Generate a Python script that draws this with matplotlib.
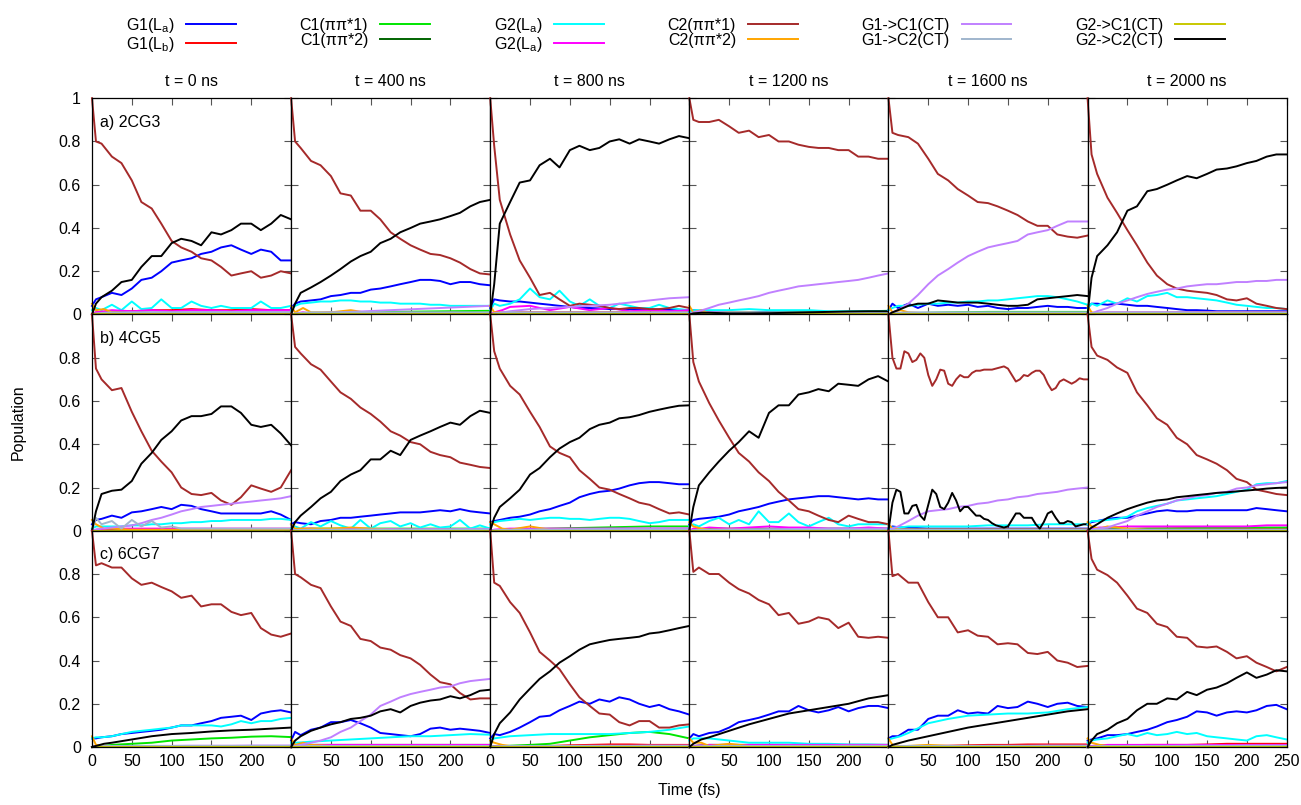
import matplotlib.pyplot as plt

plt.rcParams['font.family'] = ['Liberation Sans', 'DejaVu Sans']
plt.rcParams['mathtext.fontset'] = 'custom'
plt.rcParams['mathtext.rm'] = 'Liberation Sans'

# Zeitraster (fs): fein fuer die grossen Kurven, grob fuer die kleinen
T = [0, 5, 12, 25, 37, 50, 62, 75, 87, 100, 112, 125, 137, 150, 162, 175, 187, 200, 212, 225, 237, 250]
T_S = [0, 5, 15, 25, 50, 75, 100, 125, 150, 175, 200, 225, 250]
T_5 = list(range(0, 255, 5))

times = ["t = 0 ns", "t = 400 ns", "t = 800 ns", "t = 1200 ns", "t = 1600 ns", "t = 2000 ns"]
systems = ["a) 2CG3", "b) 4CG5", "c) 6CG7"]

names = ["G1(L$_\\mathregular{a}$)", "G1(L$_\\mathregular{b}$)", "C1(\u03c0\u03c0*1)", "C1(\u03c0\u03c0*2)",
         "G2(L$_\\mathregular{a}$)", "G2(L$_\\mathregular{a}$)", "C2(\u03c0\u03c0*1)", "C2(\u03c0\u03c0*2)",
         "G1->C1(CT)", "G1->C2(CT)", "G2->C1(CT)", "G2->C2(CT)"]
colors = ["#0000ff", "#ff0000", "#00e600", "#006400", "#00ffff", "#ff00ff",
          "#a52a2a", "#ffa500", "#c080ff", "#a0b6cd", "#c8c800", "#000000"]

# kleine Untergrundwerte (Raster T_S)
LOW = [0.0, 0.003, 0.004, 0.005, 0.005, 0.005, 0.005, 0.005, 0.005, 0.005, 0.005, 0.005, 0.005]
MID = [0.0, 0.005, 0.008, 0.01, 0.01, 0.01, 0.01, 0.01, 0.01, 0.01, 0.01, 0.01, 0.01]
ZERO = [0, 0, 0, 0, 0, 0, 0, 0, 0, 0, 0, 0, 0]
SMALL_CT = [0.0, 0.0, 0.002, 0.003, 0.004, 0.005, 0.005, 0.006, 0.006, 0.006, 0.007, 0.007, 0.007]

# ---------------- Zeile a) 2CG3 ----------------
G1_LA_A = [
    [0.04, 0.07, 0.08, 0.10, 0.09, 0.12, 0.16, 0.17, 0.20, 0.24, 0.25, 0.26, 0.28, 0.29, 0.31, 0.32, 0.30, 0.28, 0.30, 0.29, 0.25, 0.25],
    [0.03, 0.05, 0.06, 0.065, 0.07, 0.085, 0.09, 0.10, 0.10, 0.115, 0.12, 0.13, 0.14, 0.15, 0.16, 0.16, 0.155, 0.14, 0.15, 0.15, 0.14, 0.135],
    [0.03, 0.07, 0.065, 0.06, 0.06, 0.055, 0.05, 0.045, 0.04, 0.035, 0.03, 0.03, 0.028, 0.025, 0.025, 0.024, 0.023, 0.023, 0.022, 0.022, 0.02, 0.02],
    [0.01, 0.02, 0.015, 0.01, 0.01, 0.01, 0.012, 0.012, 0.01, 0.01, 0.01, 0.01, 0.01],
    [0.02, 0.05, 0.03, 0.05, 0.03, 0.05, 0.04, 0.045, 0.04, 0.045, 0.035, 0.04, 0.03, 0.025, 0.03, 0.03, 0.035, 0.04, 0.035, 0.035, 0.03, 0.03],
    [0.03, 0.05, 0.05, 0.045, 0.05, 0.045, 0.04, 0.04, 0.035, 0.03, 0.025, 0.02, 0.02, 0.018, 0.015, 0.015, 0.015, 0.015, 0.015, 0.015, 0.015, 0.015],
]
G1_LB_A = [
    [0.0, 0.01, 0.01, 0.015, 0.015, 0.02, 0.02, 0.025, 0.02, 0.02, 0.025, 0.02, 0.02],
    LOW, MID, LOW, LOW,
    [0.0, 0.004, 0.005, 0.005, 0.005, 0.006, 0.007, 0.008, 0.01, 0.01, 0.01, 0.01, 0.01],
]
C1_PP1_A = [
    [0.0, 0.002, 0.004, 0.005, 0.006, 0.006, 0.007, 0.008, 0.008, 0.008, 0.009, 0.01, 0.01],
    [0.0, 0.002, 0.004, 0.005, 0.006, 0.008, 0.01, 0.012, 0.013, 0.014, 0.015, 0.016, 0.017],
    LOW,
    [0.0, 0.002, 0.003, 0.004, 0.006, 0.008, 0.009, 0.01, 0.011, 0.012, 0.013, 0.015, 0.017],
    [0.0, 0.002, 0.004, 0.006, 0.008, 0.01, 0.011, 0.012, 0.012, 0.012, 0.012, 0.012, 0.012],
    LOW,
]
C1_PP2_A = [LOW, LOW, LOW, LOW, LOW, LOW]
G2_LA_A = [
    [0.02, 0.03, 0.02, 0.045, 0.02, 0.06, 0.025, 0.03, 0.07, 0.03, 0.03, 0.06, 0.04, 0.03, 0.04, 0.03, 0.03, 0.03, 0.06, 0.03, 0.03, 0.04],
    [0.02, 0.04, 0.05, 0.055, 0.06, 0.06, 0.065, 0.065, 0.06, 0.06, 0.055, 0.055, 0.05, 0.05, 0.05, 0.045, 0.045, 0.04, 0.04, 0.04, 0.04, 0.04],
    [0.02, 0.05, 0.04, 0.05, 0.07, 0.12, 0.08, 0.07, 0.11, 0.06, 0.04, 0.07, 0.04, 0.03, 0.05, 0.04, 0.03, 0.03, 0.045, 0.03, 0.025, 0.02],
    [0.01, 0.02, 0.02, 0.02, 0.02, 0.025, 0.02, 0.02, 0.02, 0.015, 0.015, 0.015, 0.015],
    [0.02, 0.03, 0.04, 0.04, 0.045, 0.05, 0.05, 0.055, 0.055, 0.06, 0.06, 0.065, 0.065, 0.07, 0.075, 0.08, 0.085, 0.085, 0.08, 0.07, 0.06, 0.045],
    [0.03, 0.05, 0.04, 0.065, 0.05, 0.075, 0.06, 0.085, 0.09, 0.10, 0.08, 0.08, 0.075, 0.07, 0.065, 0.055, 0.045, 0.04, 0.035, 0.03, 0.03, 0.025],
]
G2_LA2_A = [
    [0.0, 0.01, 0.015, 0.02, 0.015, 0.02, 0.015, 0.02, 0.02, 0.015, 0.02, 0.02, 0.02],
    [0.0, 0.005, 0.01, 0.005, 0.01, 0.005, 0.01, 0.005, 0.008, 0.005, 0.008, 0.006, 0.006],
    [0.0, 0.01, 0.02, 0.035, 0.04, 0.02, 0.035, 0.02, 0.03, 0.015, 0.02, 0.015, 0.02],
    [0.0, 0.01, 0.012, 0.01, 0.008, 0.008, 0.006, 0.006, 0.006, 0.006, 0.006, 0.006, 0.006],
    LOW, MID,
]
C2_PP1_A = [
    [1.0, 0.80, 0.79, 0.73, 0.70, 0.62, 0.52, 0.49, 0.42, 0.34, 0.31, 0.29, 0.26, 0.25, 0.22, 0.18, 0.19, 0.20, 0.17, 0.18, 0.20, 0.19],
    [1.0, 0.80, 0.77, 0.71, 0.69, 0.64, 0.56, 0.55, 0.48, 0.48, 0.44, 0.38, 0.35, 0.32, 0.30, 0.28, 0.275, 0.26, 0.24, 0.21, 0.19, 0.185],
    [1.0, 0.78, 0.53, 0.37, 0.25, 0.17, 0.09, 0.10, 0.07, 0.04, 0.05, 0.045, 0.04, 0.03, 0.025, 0.03, 0.03, 0.025, 0.025, 0.03, 0.04, 0.03],
    [1.0, 0.90, 0.89, 0.89, 0.90, 0.87, 0.84, 0.85, 0.82, 0.83, 0.80, 0.80, 0.785, 0.775, 0.77, 0.77, 0.76, 0.76, 0.73, 0.73, 0.72, 0.72],
    [1.0, 0.84, 0.83, 0.82, 0.79, 0.72, 0.65, 0.62, 0.58, 0.55, 0.52, 0.515, 0.50, 0.48, 0.46, 0.43, 0.41, 0.41, 0.37, 0.36, 0.355, 0.365],
    [1.0, 0.74, 0.65, 0.54, 0.47, 0.39, 0.32, 0.24, 0.18, 0.14, 0.12, 0.11, 0.105, 0.10, 0.09, 0.07, 0.065, 0.075, 0.05, 0.04, 0.03, 0.025],
]
C2_PP2_A = [
    [0.05, 0.02, 0.025, 0.01, 0.005, 0.005, 0.005, 0.005, 0.005, 0.005, 0.005, 0.005, 0.005],
    [0.04, 0.01, 0.03, 0.01, 0.01, 0.02, 0.005, 0.005, 0.005, 0.005, 0.005, 0.005, 0.005],
    [0.04, 0.01, 0.01, 0.005, 0.005, 0.005, 0.005, 0.005, 0.005, 0.005, 0.005, 0.005, 0.005],
    [0.04, 0.01, 0.02, 0.005, 0.01, 0.01, 0.005, 0.005, 0.005, 0.005, 0.005, 0.005, 0.005],
    [0.04, 0.01, 0.02, 0.01, 0.005, 0.005, 0.005, 0.005, 0.005, 0.005, 0.005, 0.005, 0.005],
    [0.04, 0.01, 0.005, 0.005, 0.005, 0.005, 0.005, 0.005, 0.005, 0.005, 0.005, 0.005, 0.005],
]
G1_C1_A = [
    [0.0, 0.0, 0.003, 0.005, 0.008, 0.01, 0.01, 0.01, 0.012, 0.012, 0.012, 0.012, 0.012],
    [0.0, 0.0, 0.002, 0.004, 0.008, 0.012, 0.016, 0.02, 0.024, 0.028, 0.032, 0.036, 0.04],
    [0.0, 0.005, 0.01, 0.015, 0.025, 0.03, 0.035, 0.04, 0.045, 0.055, 0.065, 0.075, 0.08],
    [0.0, 0.01, 0.015, 0.03, 0.045, 0.055, 0.065, 0.075, 0.085, 0.10, 0.11, 0.12, 0.13, 0.135, 0.14, 0.145, 0.15, 0.155, 0.16, 0.17, 0.18, 0.19],
    [0.0, 0.01, 0.02, 0.05, 0.09, 0.14, 0.18, 0.21, 0.24, 0.27, 0.29, 0.31, 0.32, 0.33, 0.34, 0.37, 0.38, 0.39, 0.41, 0.43, 0.43, 0.43],
    [0.0, 0.005, 0.015, 0.03, 0.05, 0.065, 0.08, 0.095, 0.105, 0.115, 0.12, 0.13, 0.135, 0.14, 0.14, 0.145, 0.15, 0.15, 0.155, 0.155, 0.16, 0.16],
]
G1_C2_A = [MID, MID, MID, MID, MID, MID]
G2_C1_A = [ZERO, ZERO, ZERO, ZERO, ZERO, ZERO]
G2_C2_A = [
    [0.0, 0.05, 0.08, 0.11, 0.15, 0.16, 0.22, 0.27, 0.27, 0.33, 0.35, 0.34, 0.32, 0.38, 0.37, 0.39, 0.42, 0.42, 0.39, 0.42, 0.46, 0.44],
    [0.0, 0.05, 0.10, 0.125, 0.15, 0.18, 0.21, 0.245, 0.27, 0.29, 0.33, 0.35, 0.38, 0.40, 0.42, 0.43, 0.44, 0.455, 0.47, 0.50, 0.52, 0.53],
    [0.0, 0.14, 0.42, 0.52, 0.61, 0.62, 0.69, 0.72, 0.68, 0.76, 0.78, 0.76, 0.77, 0.80, 0.81, 0.79, 0.81, 0.80, 0.79, 0.81, 0.825, 0.815],
    [0.0, 0.005, 0.008, 0.008, 0.005, 0.005, 0.006, 0.008, 0.01, 0.012, 0.014, 0.015, 0.015],
    [0.0, 0.01, 0.02, 0.04, 0.05, 0.05, 0.065, 0.06, 0.055, 0.055, 0.055, 0.05, 0.045, 0.04, 0.04, 0.045, 0.07, 0.075, 0.08, 0.085, 0.09, 0.085],
    [0.0, 0.17, 0.27, 0.32, 0.38, 0.48, 0.50, 0.57, 0.58, 0.60, 0.62, 0.64, 0.63, 0.65, 0.67, 0.675, 0.685, 0.70, 0.71, 0.73, 0.74, 0.74],
]

# ---------------- Zeile b) 4CG5 ----------------
G1_LA_B = [
    [0.03, 0.05, 0.055, 0.07, 0.06, 0.085, 0.09, 0.10, 0.11, 0.10, 0.12, 0.115, 0.10, 0.09, 0.08, 0.08, 0.08, 0.08, 0.08, 0.09, 0.075, 0.05],
    [0.03, 0.04, 0.035, 0.03, 0.045, 0.05, 0.06, 0.06, 0.065, 0.07, 0.075, 0.08, 0.085, 0.085, 0.085, 0.09, 0.095, 0.09, 0.10, 0.09, 0.085, 0.08],
    [0.04, 0.045, 0.05, 0.06, 0.065, 0.075, 0.09, 0.10, 0.115, 0.13, 0.155, 0.17, 0.18, 0.185, 0.195, 0.21, 0.22, 0.225, 0.225, 0.22, 0.215, 0.215],
    [0.03, 0.05, 0.055, 0.06, 0.065, 0.075, 0.09, 0.10, 0.11, 0.125, 0.135, 0.145, 0.15, 0.155, 0.16, 0.16, 0.155, 0.15, 0.145, 0.15, 0.145, 0.145],
    [0.01, 0.02, 0.015, 0.015, 0.01, 0.01, 0.01, 0.01, 0.01, 0.01, 0.01, 0.01, 0.01],
    [0.03, 0.04, 0.045, 0.055, 0.06, 0.06, 0.07, 0.08, 0.09, 0.095, 0.09, 0.09, 0.095, 0.095, 0.095, 0.095, 0.095, 0.095, 0.105, 0.10, 0.095, 0.09],
]
G1_LB_B = [LOW, LOW, LOW, LOW, LOW,
           [0.0, 0.005, 0.005, 0.005, 0.008, 0.01, 0.01, 0.012, 0.012, 0.012, 0.012, 0.012, 0.012]]
C1_PP1_B = [
    LOW, MID,
    [0.0, 0.002, 0.004, 0.005, 0.008, 0.01, 0.012, 0.014, 0.016, 0.018, 0.02, 0.02, 0.02],
    MID, LOW,
    [0.0, 0.003, 0.005, 0.007, 0.009, 0.01, 0.011, 0.012, 0.013, 0.014, 0.015, 0.015, 0.015],
]
C1_PP2_B = [LOW, LOW, LOW, LOW, LOW, LOW]
G2_LA_B = [
    [0.01, 0.02, 0.02, 0.02, 0.02, 0.025, 0.025, 0.03, 0.03, 0.035, 0.035, 0.04, 0.04, 0.045, 0.045, 0.05, 0.05, 0.05, 0.05, 0.055, 0.055, 0.05],
    [0.01, 0.02, 0.01, 0.04, 0.02, 0.045, 0.025, 0.01, 0.05, 0.01, 0.035, 0.045, 0.02, 0.035, 0.015, 0.03, 0.015, 0.02, 0.05, 0.01, 0.025, 0.01],
    [0.03, 0.04, 0.045, 0.05, 0.055, 0.05, 0.055, 0.06, 0.06, 0.055, 0.055, 0.05, 0.055, 0.06, 0.06, 0.055, 0.045, 0.035, 0.04, 0.05, 0.05, 0.05],
    [0.02, 0.03, 0.02, 0.045, 0.06, 0.03, 0.05, 0.03, 0.09, 0.04, 0.04, 0.08, 0.04, 0.02, 0.04, 0.06, 0.03, 0.02, 0.03, 0.03, 0.03, 0.03],
    [0.01, 0.015, 0.015, 0.02, 0.02, 0.02, 0.02, 0.025, 0.025, 0.025, 0.03, 0.03, 0.03],
    [0.03, 0.045, 0.045, 0.05, 0.055, 0.065, 0.09, 0.105, 0.115, 0.125, 0.14, 0.145, 0.15, 0.155, 0.16, 0.17, 0.18, 0.19, 0.215, 0.22, 0.22, 0.23],
]
G2_LA2_B = [
    MID,
    [0.0, 0.005, 0.01, 0.01, 0.005, 0.01, 0.005, 0.008, 0.005, 0.008, 0.005, 0.006, 0.005],
    MID,
    [0.0, 0.01, 0.01, 0.015, 0.01, 0.015, 0.02, 0.015, 0.015, 0.01, 0.01, 0.015, 0.01],
    LOW,
    [0.0, 0.01, 0.015, 0.015, 0.02, 0.02, 0.02, 0.02, 0.02, 0.02, 0.02, 0.025, 0.025],
]
C2_PP1_B = [
    [1.0, 0.75, 0.70, 0.65, 0.66, 0.55, 0.46, 0.37, 0.32, 0.27, 0.20, 0.17, 0.165, 0.175, 0.14, 0.12, 0.155, 0.21, 0.195, 0.18, 0.20, 0.28],
    [1.0, 0.85, 0.82, 0.77, 0.745, 0.69, 0.64, 0.61, 0.57, 0.54, 0.505, 0.46, 0.44, 0.41, 0.40, 0.365, 0.35, 0.34, 0.315, 0.305, 0.295, 0.29],
    [1.0, 0.83, 0.75, 0.67, 0.63, 0.55, 0.48, 0.39, 0.36, 0.34, 0.28, 0.24, 0.20, 0.19, 0.17, 0.15, 0.13, 0.12, 0.10, 0.08, 0.085, 0.075],
    [1.0, 0.78, 0.69, 0.59, 0.51, 0.43, 0.36, 0.32, 0.27, 0.23, 0.18, 0.14, 0.10, 0.09, 0.07, 0.05, 0.04, 0.07, 0.055, 0.04, 0.04, 0.03],
    [1.0, 0.80, 0.75, 0.75, 0.83, 0.82, 0.78, 0.79, 0.82, 0.80,
     0.72, 0.67, 0.70, 0.745, 0.74, 0.68, 0.67, 0.70, 0.72, 0.71,
     0.71, 0.73, 0.74, 0.74, 0.745, 0.745, 0.745, 0.75, 0.755, 0.76,
     0.75, 0.72, 0.69, 0.70, 0.72, 0.715, 0.73, 0.74, 0.74, 0.72,
     0.68, 0.65, 0.66, 0.69, 0.70, 0.69, 0.68, 0.69, 0.705, 0.70,
     0.70],
    [1.0, 0.85, 0.81, 0.79, 0.755, 0.73, 0.64, 0.58, 0.52, 0.49, 0.43, 0.40, 0.35, 0.33, 0.31, 0.28, 0.24, 0.225, 0.19, 0.18, 0.17, 0.165],
]
C2_PP2_B = [
    [0.05, 0.03, 0.01, 0.01, 0.005, 0.005, 0.005, 0.005, 0.005, 0.005, 0.005, 0.005, 0.005],
    [0.03, 0.01, 0.01, 0.01, 0.01, 0.015, 0.01, 0.005, 0.005, 0.005, 0.005, 0.005, 0.005],
    [0.04, 0.03, 0.01, 0.005, 0.02, 0.005, 0.005, 0.005, 0.005, 0.005, 0.005, 0.005, 0.005],
    [0.04, 0.02, 0.01, 0.005, 0.005, 0.005, 0.005, 0.005, 0.005, 0.005, 0.005, 0.005, 0.005],
    [0.03, 0.01, 0.005, 0.005, 0.005, 0.005, 0.005, 0.005, 0.005, 0.005, 0.005, 0.005, 0.005],
    [0.04, 0.02, 0.01, 0.02, 0.01, 0.005, 0.005, 0.005, 0.005, 0.005, 0.005, 0.005, 0.005],
]
G1_C1_B = [
    [0.0, 0.005, 0.01, 0.015, 0.02, 0.025, 0.035, 0.05, 0.06, 0.075, 0.09, 0.10, 0.11, 0.115, 0.12, 0.125, 0.13, 0.135, 0.14, 0.145, 0.15, 0.16],
    [0.0, 0.0, 0.002, 0.003, 0.004, 0.005, 0.005, 0.006, 0.006, 0.007, 0.007, 0.008, 0.008],
    [0.0, 0.0, 0.002, 0.003, 0.005, 0.006, 0.007, 0.008, 0.009, 0.01, 0.01, 0.01, 0.01],
    [0.0, 0.0, 0.002, 0.003, 0.005, 0.006, 0.007, 0.008, 0.009, 0.01, 0.01, 0.01, 0.01],
    [0.0, 0.01, 0.02, 0.045, 0.07, 0.09, 0.095, 0.10, 0.11, 0.115, 0.125, 0.13, 0.14, 0.145, 0.155, 0.16, 0.17, 0.175, 0.18, 0.19, 0.195, 0.20],
    [0.0, 0.005, 0.01, 0.015, 0.03, 0.045, 0.07, 0.09, 0.11, 0.125, 0.14, 0.15, 0.16, 0.165, 0.175, 0.18, 0.195, 0.20, 0.21, 0.215, 0.22, 0.225],
]
G1_C2_B = [
    [0.0, 0.06, 0.03, 0.045, 0.01, 0.05, 0.02, 0.045, 0.015, 0.02, 0.01, 0.01, 0.01, 0.01, 0.01, 0.01, 0.01, 0.01, 0.01, 0.01, 0.01, 0.01],
    LOW, LOW, LOW, LOW, LOW,
]
G2_C1_B = [ZERO, ZERO, ZERO, ZERO, ZERO, ZERO]
G2_C2_B = [
    [0.0, 0.09, 0.17, 0.185, 0.19, 0.23, 0.31, 0.36, 0.42, 0.46, 0.51, 0.53, 0.53, 0.54, 0.575, 0.575, 0.545, 0.49, 0.48, 0.49, 0.45, 0.395],
    [0.0, 0.04, 0.07, 0.11, 0.15, 0.18, 0.23, 0.26, 0.28, 0.33, 0.33, 0.37, 0.35, 0.42, 0.44, 0.46, 0.48, 0.50, 0.49, 0.53, 0.555, 0.545],
    [0.0, 0.06, 0.11, 0.15, 0.19, 0.26, 0.29, 0.34, 0.38, 0.41, 0.43, 0.47, 0.49, 0.50, 0.52, 0.525, 0.535, 0.55, 0.56, 0.57, 0.578, 0.58],
    [0.0, 0.11, 0.21, 0.27, 0.32, 0.37, 0.41, 0.46, 0.43, 0.545, 0.58, 0.58, 0.63, 0.64, 0.655, 0.645, 0.68, 0.675, 0.67, 0.70, 0.715, 0.69],
    [0.0, 0.13, 0.19, 0.18, 0.08, 0.08, 0.115, 0.12, 0.07, 0.05,
     0.12, 0.19, 0.17, 0.11, 0.10, 0.13, 0.175, 0.14, 0.09, 0.11,
     0.11, 0.09, 0.07, 0.07, 0.055, 0.05, 0.035, 0.025, 0.02, 0.015,
     0.02, 0.05, 0.08, 0.08, 0.06, 0.06, 0.06, 0.03, 0.01, 0.04,
     0.08, 0.09, 0.06, 0.035, 0.035, 0.045, 0.04, 0.02, 0.025, 0.03,
     0.03],
    [0.0, 0.015, 0.03, 0.06, 0.08, 0.10, 0.115, 0.13, 0.14, 0.145, 0.155, 0.16, 0.165, 0.17, 0.175, 0.178, 0.182, 0.186, 0.19, 0.195, 0.198, 0.20],
]

# ---------------- Zeile c) 6CG7 ----------------
G1_LA_C = [
    [0.04, 0.04, 0.045, 0.05, 0.06, 0.065, 0.07, 0.075, 0.08, 0.09, 0.10, 0.10, 0.11, 0.12, 0.135, 0.14, 0.145, 0.125, 0.155, 0.165, 0.17, 0.16],
    [0.03, 0.07, 0.055, 0.08, 0.09, 0.115, 0.115, 0.125, 0.11, 0.09, 0.065, 0.06, 0.055, 0.05, 0.06, 0.085, 0.09, 0.08, 0.085, 0.08, 0.075, 0.065],
    [0.04, 0.06, 0.055, 0.07, 0.09, 0.115, 0.14, 0.145, 0.17, 0.19, 0.21, 0.20, 0.22, 0.21, 0.23, 0.22, 0.20, 0.185, 0.195, 0.175, 0.165, 0.15],
    [0.04, 0.06, 0.05, 0.065, 0.07, 0.09, 0.115, 0.125, 0.135, 0.15, 0.165, 0.165, 0.19, 0.17, 0.16, 0.17, 0.185, 0.165, 0.18, 0.19, 0.19, 0.18],
    [0.04, 0.05, 0.05, 0.08, 0.08, 0.13, 0.145, 0.145, 0.17, 0.155, 0.16, 0.155, 0.19, 0.18, 0.185, 0.21, 0.20, 0.185, 0.20, 0.205, 0.19, 0.185],
    [0.03, 0.035, 0.04, 0.055, 0.055, 0.06, 0.07, 0.08, 0.095, 0.115, 0.125, 0.14, 0.165, 0.16, 0.145, 0.16, 0.165, 0.16, 0.17, 0.19, 0.195, 0.175],
]
G1_LB_C = [
    LOW, LOW,
    [0.0, 0.0, 0.0, 0.002, 0.003, 0.005, 0.008, 0.01, 0.012, 0.012, 0.01, 0.01, 0.01],
    LOW,
    [0.0, 0.003, 0.004, 0.005, 0.005, 0.006, 0.008, 0.01, 0.01, 0.012, 0.012, 0.012, 0.012],
    [0.0, 0.005, 0.005, 0.005, 0.008, 0.01, 0.01, 0.01, 0.012, 0.015, 0.015, 0.015, 0.015],
]
C1_PP1_C = [
    [0.0, 0.002, 0.005, 0.01, 0.015, 0.02, 0.03, 0.035, 0.04, 0.043, 0.048, 0.05, 0.046],
    MID,
    [0.0, 0.002, 0.004, 0.006, 0.01, 0.015, 0.03, 0.045, 0.055, 0.065, 0.07, 0.06, 0.04],
    MID, LOW, LOW,
]
C1_PP2_C = [LOW, LOW, LOW, LOW, LOW, LOW]
G2_LA_C = [
    [0.04, 0.045, 0.045, 0.05, 0.06, 0.07, 0.075, 0.08, 0.085, 0.09, 0.10, 0.10, 0.10, 0.10, 0.095, 0.105, 0.12, 0.11, 0.12, 0.12, 0.13, 0.135],
    [0.02, 0.02, 0.022, 0.025, 0.03, 0.035, 0.04, 0.045, 0.05, 0.05, 0.055, 0.06, 0.057],
    [0.03, 0.04, 0.045, 0.05, 0.055, 0.06, 0.06, 0.06, 0.06, 0.065, 0.07, 0.08, 0.095],
    [0.03, 0.04, 0.04, 0.04, 0.03, 0.02, 0.02, 0.02, 0.015, 0.015, 0.012, 0.012, 0.01],
    [0.035, 0.04, 0.05, 0.065, 0.11, 0.13, 0.145, 0.15, 0.155, 0.155, 0.16, 0.175, 0.185],
    [0.02, 0.03, 0.035, 0.04, 0.05, 0.06, 0.05, 0.065, 0.055, 0.06, 0.07, 0.06, 0.065, 0.05, 0.045, 0.04, 0.035, 0.03, 0.05, 0.055, 0.045, 0.035],
]
G2_LA2_C = [LOW, MID, LOW, MID, LOW, MID]
C2_PP1_C = [
    [1.0, 0.84, 0.85, 0.83, 0.83, 0.78, 0.75, 0.76, 0.74, 0.72, 0.69, 0.70, 0.65, 0.66, 0.66, 0.625, 0.61, 0.62, 0.55, 0.52, 0.51, 0.525],
    [1.0, 0.80, 0.785, 0.75, 0.735, 0.65, 0.58, 0.56, 0.50, 0.49, 0.46, 0.45, 0.425, 0.41, 0.38, 0.335, 0.30, 0.29, 0.25, 0.22, 0.225, 0.225],
    [1.0, 0.76, 0.745, 0.67, 0.62, 0.53, 0.44, 0.40, 0.36, 0.29, 0.23, 0.19, 0.155, 0.15, 0.115, 0.10, 0.12, 0.12, 0.09, 0.09, 0.10, 0.105],
    [1.0, 0.81, 0.83, 0.80, 0.80, 0.76, 0.73, 0.71, 0.68, 0.66, 0.61, 0.62, 0.57, 0.58, 0.60, 0.59, 0.55, 0.575, 0.51, 0.505, 0.51, 0.505],
    [1.0, 0.79, 0.80, 0.76, 0.76, 0.67, 0.60, 0.60, 0.53, 0.54, 0.515, 0.51, 0.475, 0.48, 0.475, 0.435, 0.43, 0.44, 0.40, 0.39, 0.37, 0.375],
    [1.0, 0.87, 0.82, 0.795, 0.76, 0.70, 0.64, 0.62, 0.57, 0.555, 0.51, 0.505, 0.465, 0.46, 0.465, 0.44, 0.41, 0.42, 0.39, 0.37, 0.35, 0.37],
]
C2_PP2_C = [
    [0.05, 0.01, 0.005, 0.005, 0.005, 0.005, 0.005, 0.005, 0.005, 0.005, 0.005, 0.005, 0.005],
    [0.04, 0.01, 0.02, 0.01, 0.005, 0.005, 0.005, 0.005, 0.005, 0.005, 0.005, 0.005, 0.005],
    [0.03, 0.02, 0.01, 0.005, 0.005, 0.005, 0.005, 0.005, 0.005, 0.005, 0.005, 0.005, 0.005],
    [0.04, 0.02, 0.02, 0.005, 0.015, 0.005, 0.005, 0.005, 0.005, 0.005, 0.005, 0.005, 0.005],
    [0.04, 0.01, 0.005, 0.005, 0.01, 0.005, 0.005, 0.005, 0.005, 0.005, 0.005, 0.005, 0.005],
    [0.04, 0.02, 0.01, 0.005, 0.005, 0.005, 0.005, 0.005, 0.005, 0.005, 0.005, 0.005, 0.005],
]
G1_C1_C = [
    SMALL_CT,
    [0.0, 0.005, 0.01, 0.02, 0.03, 0.045, 0.07, 0.09, 0.12, 0.15, 0.19, 0.21, 0.23, 0.245, 0.255, 0.265, 0.275, 0.28, 0.295, 0.305, 0.31, 0.315],
    SMALL_CT, SMALL_CT, SMALL_CT, SMALL_CT,
]
G1_C2_C = [LOW, LOW, LOW, LOW, LOW, LOW]
G2_C1_C = [ZERO, ZERO, ZERO, ZERO, ZERO, ZERO]
G2_C2_C = [
    [0.0, 0.005, 0.015, 0.02, 0.035, 0.05, 0.06, 0.065, 0.072, 0.077, 0.08, 0.085, 0.09],
    [0.0, 0.03, 0.05, 0.075, 0.09, 0.105, 0.115, 0.13, 0.135, 0.145, 0.165, 0.175, 0.16, 0.19, 0.205, 0.215, 0.22, 0.235, 0.225, 0.24, 0.26, 0.265],
    [0.0, 0.06, 0.11, 0.16, 0.22, 0.27, 0.315, 0.35, 0.39, 0.42, 0.45, 0.475, 0.485, 0.495, 0.50, 0.505, 0.51, 0.525, 0.53, 0.54, 0.55, 0.56],
    [0.0, 0.015, 0.035, 0.045, 0.075, 0.105, 0.13, 0.155, 0.17, 0.185, 0.20, 0.225, 0.24],
    [0.0, 0.01, 0.02, 0.03, 0.05, 0.07, 0.09, 0.105, 0.12, 0.135, 0.15, 0.165, 0.175],
    [0.0, 0.03, 0.06, 0.08, 0.11, 0.13, 0.17, 0.20, 0.20, 0.225, 0.22, 0.255, 0.24, 0.265, 0.275, 0.295, 0.32, 0.345, 0.32, 0.335, 0.355, 0.35],
]

# Reihenfolge wie in der Legende
series = [
    [G1_LA_A, G1_LA_B, G1_LA_C],
    [G1_LB_A, G1_LB_B, G1_LB_C],
    [C1_PP1_A, C1_PP1_B, C1_PP1_C],
    [C1_PP2_A, C1_PP2_B, C1_PP2_C],
    [G2_LA_A, G2_LA_B, G2_LA_C],
    [G2_LA2_A, G2_LA2_B, G2_LA2_C],
    [C2_PP1_A, C2_PP1_B, C2_PP1_C],
    [C2_PP2_A, C2_PP2_B, C2_PP2_C],
    [G1_C1_A, G1_C1_B, G1_C1_C],
    [G1_C2_A, G1_C2_B, G1_C2_C],
    [G2_C1_A, G2_C1_B, G2_C1_C],
    [G2_C2_A, G2_C2_B, G2_C2_C],
]
grids = {len(T): T, len(T_S): T_S, len(T_5): T_5}

FS = 11.5
fig, axes = plt.subplots(3, 6, figsize=(13.01, 8.05), dpi=100)
fig.subplots_adjust(left=0.0707, right=0.989, top=0.878, bottom=0.072, wspace=0, hspace=0)

for r in range(3):
    for c in range(6):
        ax = axes[r][c]
        for k, s in enumerate(series):
            y = s[r][c]
            ax.plot(grids[len(y)], y, color=colors[k], lw=1.4, clip_on=False,
                    label=names[k] if (r == 0 and c == 0) else None)
        ax.set_xlim(0, 250)
        ax.set_ylim(0, 1)
        ax.set_xticks([0, 50, 100, 150, 200, 250])
        ax.set_yticks([0, 0.2, 0.4, 0.6, 0.8, 1.0])
        ax.tick_params(direction='in', top=True, right=True, length=5, width=0.8,
                       color='#555555', labelsize=FS)
        ax.tick_params(axis='x', pad=5)
        ax.tick_params(axis='y', pad=8)
        if r == 2:
            ax.set_xticklabels(['0', '50', '100', '150', '200', '250' if c == 5 else ''])
        else:
            ax.tick_params(labelbottom=False)
        if c == 0:
            ax.set_yticklabels(['0', '0.2', '0.4', '0.6', '0.8', '1' if r == 0 else ''])
            ax.text(0.04, 0.89, systems[r], transform=ax.transAxes, fontsize=FS, va='center')
        else:
            ax.tick_params(labelleft=False)
        if r == 0:
            ax.set_title(times[c], fontsize=FS, pad=9)
        for sp in ax.spines.values():
            sp.set_linewidth(0.9)

handles, labels = axes[0][0].get_legend_handles_labels()
fig.legend(handles, labels, loc='upper center', bbox_to_anchor=(0.519, 0.998), ncol=6,
           frameon=False, markerfirst=False, fontsize=FS, handlelength=3.1,
           handletextpad=0.75, columnspacing=4.0, labelspacing=0.0)

fig.text(0.014, 0.476, 'Population', rotation=90, va='center', ha='center', fontsize=FS)
fig.text(0.53, 0.018, 'Time (fs)', ha='center', va='center', fontsize=FS)

fig.savefig('out.png', dpi=100)
